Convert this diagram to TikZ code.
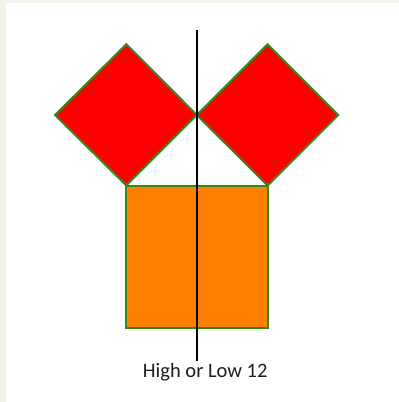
\documentclass[tikz,border=0pt]{standalone}
\usepackage{fontspec}
\setmainfont{Carlito}
\definecolor{bgbeige}{RGB}{243,243,235}
\definecolor{edgegreen}{RGB}{55,135,30}
\definecolor{sqorange}{RGB}{255,128,0}
\definecolor{sqred}{RGB}{255,0,0}
\definecolor{txt}{RGB}{30,30,30}
\begin{document}
\begin{tikzpicture}[x=1pt,y=-1pt,
  shapeedge/.style={draw=edgegreen,line width=2pt,line join=miter},
  axisline/.style={draw=black,line width=1.6pt}]
\useasboundingbox (0,0) rectangle (399,402);
\fill[bgbeige] (0,0) rectangle (399,402);
\fill[white] (6,2.5) rectangle (399,402);
% key points
\coordinate (L1) at (55,115);
\coordinate (T1) at (126.3,44.3);
\coordinate (C) at (196.8,115);
\coordinate (B1) at (126.3,185.5);
\coordinate (T2) at (267.6,44.3);
\coordinate (R2) at (338.3,115);
\coordinate (B2) at (267.6,185.5);
\coordinate (SBL) at (126.3,327.5);
\coordinate (SBR) at (267.6,327.5);
% shapes
\path[shapeedge,fill=sqorange] (B1) -- (B2) -- (SBR) -- (SBL) -- cycle;
\path[shapeedge,fill=sqred] (L1) -- (T1) -- (C) -- (B1) -- cycle;
\path[shapeedge,fill=sqred] (C) -- (T2) -- (R2) -- (B2) -- cycle;
% axis
\coordinate (AT) at (196.8,30);
\coordinate (AB) at (196.8,361);
\draw[axisline] (AT) -- (AB);
\node[anchor=base,inner sep=0pt,text=txt,font=\fontsize{20.5}{24}\selectfont] (lbl) at (205.2,377.7) {High or Low 12};
\end{tikzpicture}
\end{document}
